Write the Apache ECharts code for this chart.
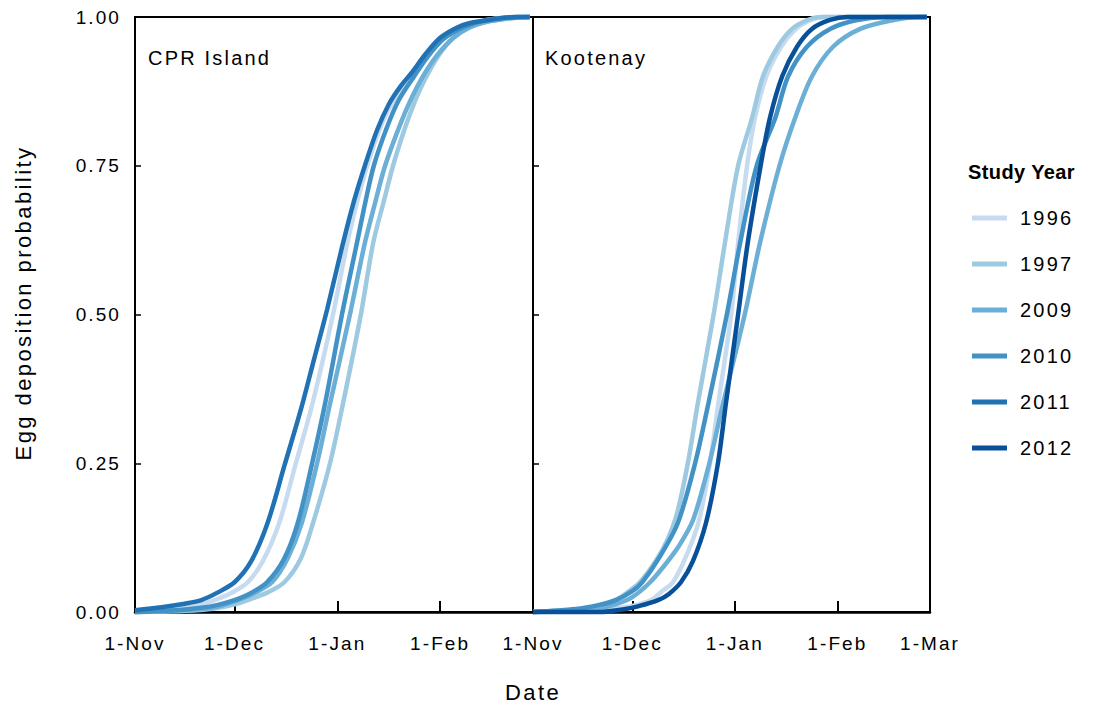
<!DOCTYPE html>
<html>
<head>
<meta charset="utf-8">
<title>Egg deposition probability by study year</title>
<script src="https://cdn.jsdelivr.net/npm/echarts@6.0.0/dist/echarts.min.js"></script>
<style>
  html, body { margin: 0; padding: 0; background: #fff; }
  #chart { width: 1110px; height: 706px; }
  /* slightly open tracking on the labels, tighter on the bold heading */
  #chart svg text { letter-spacing: 0.11em; }
  #chart svg text[style*="bold"] { letter-spacing: 0.02em; }
</style>
</head>
<body>
<div id="chart"></div>
<script>
// Days counted from 1 November; cumulative probability of egg deposition.
const monthTicks = [0, 30, 61, 92, 120];
const monthLabels = ['1-Nov', '1-Dec', '1-Jan', '1-Feb', '1-Mar'];
const probTicks = [0, 0.25, 0.5, 0.75, 1];
const studyYears = ['1996', '1997', '2009', '2010', '2011', '2012'];
const yearColors = ['#c6dbef', '#9ecae1', '#6baed6', '#4292c6', '#2171b5', '#08509a'];

// CPR Island
const cpr1996 = [[0,0],[10,0.004],[18,0.01],[25,0.022],[30,0.035],[34,0.05],[38.5,0.085],[43.5,0.15],[48.5,0.25],[53.5,0.35],[59.7,0.5],[64,0.62],[67,0.69],[70,0.75],[74,0.815],[77.5,0.855],[81,0.885],[84.5,0.91],[88.5,0.94],[93,0.965],[100,0.985],[106,0.995],[115,1],[119,1]];
const cpr1997 = [[0,0],[15,0.002],[24,0.006],[29.5,0.012],[34,0.02],[40,0.033],[45,0.05],[50,0.09],[53.7,0.15],[58.8,0.25],[62.7,0.35],[68.1,0.5],[71.8,0.62],[75,0.69],[77.8,0.75],[81.5,0.815],[84.5,0.86],[87.4,0.895],[91.5,0.935],[96,0.965],[101,0.983],[107,0.993],[113,0.998],[119,1]];
const cpr2009 = [[0,0],[10,0.002],[20,0.005],[25,0.009],[31,0.02],[36,0.032],[41.3,0.05],[46,0.09],[50.3,0.15],[54.9,0.25],[58.8,0.35],[64.8,0.5],[69.3,0.62],[72.5,0.69],[75.4,0.75],[80,0.82],[83.5,0.865],[86.8,0.9],[91,0.935],[96,0.965],[101,0.983],[107,0.993],[113,0.998],[119,1]];
const cpr2010 = [[0,0],[10,0.002],[20,0.007],[25,0.012],[30,0.02],[35,0.032],[39.8,0.05],[45,0.09],[49.1,0.15],[53.4,0.25],[57.3,0.35],[62.4,0.5],[66.9,0.62],[69.5,0.69],[72,0.75],[76,0.815],[79.5,0.86],[83.5,0.895],[88.5,0.935],[93,0.963],[99,0.983],[106,0.995],[116,1],[119,1]];
const cpr2011 = [[0,0.003],[8,0.008],[15,0.014],[20,0.02],[25,0.033],[30,0.05],[35,0.085],[40,0.15],[45,0.245],[50,0.34],[54,0.425],[58,0.51],[62.5,0.615],[66,0.69],[69.3,0.75],[73,0.81],[76.5,0.853],[80,0.883],[83.5,0.907],[87.5,0.937],[92,0.965],[97,0.982],[101,0.99],[108,0.996],[115,1],[119,1]];

// Kootenay
const koo1996 = [[0,0],[15,0.002],[25,0.006],[30,0.01],[35.7,0.02],[39,0.035],[42.3,0.05],[46,0.09],[50,0.15],[53.5,0.25],[56,0.35],[59.9,0.5],[62,0.62],[64.7,0.75],[67.1,0.83],[70.5,0.9],[75,0.95],[79.5,0.98],[84,0.995],[88,1],[119,1]];
const koo1997 = [[0,0],[10,0.003],[18,0.008],[25,0.02],[29,0.035],[32.3,0.05],[37,0.085],[40.5,0.12],[43.5,0.165],[46.8,0.25],[49.8,0.35],[54.6,0.5],[58,0.62],[62,0.75],[66.2,0.83],[69.5,0.9],[74,0.95],[78.3,0.98],[83,0.995],[87,1],[119,1]];
const koo2009 = [[0,0],[12,0.003],[20,0.007],[25,0.013],[30,0.025],[35.4,0.05],[40,0.08],[44,0.11],[48.4,0.155],[53.3,0.25],[57,0.34],[64,0.5],[68.6,0.62],[74.5,0.75],[79.2,0.83],[84.3,0.9],[90.7,0.95],[98.9,0.98],[109,0.995],[117,1],[119,1]];
const koo2010 = [[0,0],[13,0.005],[20,0.012],[25,0.02],[30,0.035],[33,0.05],[38,0.09],[43.8,0.15],[49,0.25],[53,0.35],[58.6,0.5],[62.6,0.62],[67.6,0.75],[73.2,0.83],[77.1,0.9],[82.8,0.95],[89.8,0.98],[98,0.995],[107,1],[119,1]];
const koo2012 = [[0,0],[20,0],[28,0.005],[32,0.01],[37.8,0.02],[41,0.03],[44.7,0.05],[48.3,0.085],[52.3,0.15],[55.9,0.25],[58.3,0.35],[62,0.5],[64.9,0.62],[68.8,0.75],[71.6,0.83],[75.3,0.9],[79.8,0.95],[84.3,0.98],[89.8,0.995],[95,1],[119,1]];

const FONT = '"Liberation Sans", Arial, sans-serif';
const INK = '#000';

function colorOf(year) {
  return yearColors[studyYears.indexOf(year)];
}

function curve(year, data, panel) {
  return {
    type: 'line',
    name: year,
    xAxisIndex: panel,
    yAxisIndex: panel,
    data: data,
    showSymbol: false,
    symbol: 'none',
    smooth: 0.3,
    clip: false,
    lineStyle: { width: 4.5, color: colorOf(year) },
    itemStyle: { color: colorOf(year) },
    emphasis: { disabled: true }
  };
}

function dateLabel(v) {
  const i = monthTicks.indexOf(Math.round(v));
  return i >= 0 ? monthLabels[i] : '';
}

function xAxisFor(panel, labelValues) {
  return {
    type: 'value',
    gridIndex: panel,
    min: monthTicks[0],
    max: monthTicks[monthTicks.length - 1],
    splitLine: { show: false },
    axisLine: { show: true, lineStyle: { color: INK, width: 2.5 } },
    axisTick: {
      show: true, inside: true, length: 11,
      customValues: monthTicks.slice(1, -1),
      lineStyle: { color: INK, width: 2 }
    },
    axisLabel: {
      show: true, margin: 22,
      customValues: labelValues,
      formatter: dateLabel,
      color: INK, fontSize: 19, fontFamily: FONT,
      showMinLabel: true, showMaxLabel: true
    }
  };
}

function yAxisFor(panel, withLabels) {
  return {
    type: 'value',
    gridIndex: panel,
    min: 0, max: 1, interval: 0.25,
    splitLine: { show: false },
    axisLine: { show: true, lineStyle: { color: INK, width: 2 } },
    axisTick: {
      show: true, inside: true, length: 6,
      customValues: probTicks.slice(1, -1),
      lineStyle: { color: INK, width: 1.5 }
    },
    axisLabel: {
      show: withLabels, margin: 14,
      formatter: v => v.toFixed(2),
      color: INK, fontSize: 19, fontFamily: FONT
    }
  };
}

const chart = echarts.init(document.getElementById('chart'), null, { renderer: 'svg', width: 1110, height: 706 });

chart.setOption({
  animation: false,
  backgroundColor: '#fff',
  textStyle: { fontFamily: FONT, color: INK },
  grid: [
    { left: 135, top: 17, width: 398, height: 595, show: true, borderColor: INK, borderWidth: 2, backgroundColor: 'transparent' },
    { left: 533, top: 17, width: 397, height: 595, show: true, borderColor: INK, borderWidth: 2, backgroundColor: 'transparent' }
  ],
  xAxis: [
    xAxisFor(0, monthTicks.slice(0, -1)),
    xAxisFor(1, monthTicks)
  ],
  yAxis: [
    yAxisFor(0, true),
    yAxisFor(1, false)
  ],
  legend: {
    data: studyYears,
    orient: 'vertical',
    left: 972,
    top: 208,
    padding: 0,
    icon: 'path://M0 0H35V5H0Z',
    symbolKeepAspect: true,
    itemWidth: 35,
    itemHeight: 20,
    itemGap: 26,
    selectedMode: false,
    textStyle: { fontSize: 20, fontFamily: FONT, color: INK, lineHeight: 20, padding: [0, 0, 0, 8] }
  },
  graphic: [
    { type: 'text', left: 148, top: 48, style: { text: 'CPR Island', font: '20px ' + FONT, fill: INK } },
    { type: 'text', left: 545, top: 48, style: { text: 'Kootenay', font: '20px ' + FONT, fill: INK } },
    { type: 'text', left: 968, top: 162, style: { text: 'Study Year', font: 'bold 20px ' + FONT, fill: INK } },
    { type: 'text', x: 533, y: 692, style: { text: 'Date', font: '22px ' + FONT, fill: INK, align: 'center', verticalAlign: 'middle' } },
    { type: 'text', x: 23, y: 303, rotation: Math.PI / 2, style: { text: 'Egg deposition probability', font: '22px ' + FONT, fill: INK, align: 'center', verticalAlign: 'middle' } }
  ],
  series: [
    curve('1996', cpr1996, 0),
    curve('1997', cpr1997, 0),
    curve('2009', cpr2009, 0),
    curve('2010', cpr2010, 0),
    curve('2011', cpr2011, 0),
    curve('1996', koo1996, 1),
    curve('1997', koo1997, 1),
    curve('2009', koo2009, 1),
    curve('2010', koo2010, 1),
    curve('2012', koo2012, 1)
  ]
});
</script>
</body>
</html>
